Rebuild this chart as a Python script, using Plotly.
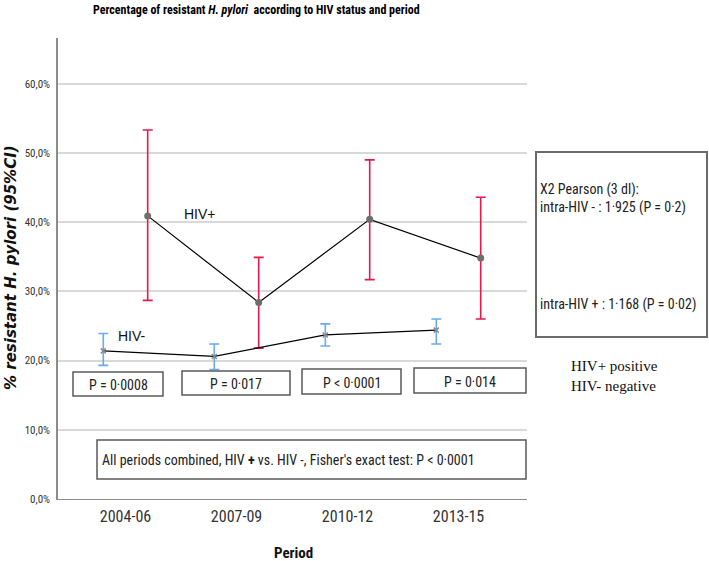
import plotly.graph_objects as go

# ---------------- data ----------------
periods = ["2004-06", "2007-09", "2010-12", "2013-15"]
hiv_pos = [40.9, 28.4, 40.4, 34.8]
hiv_pos_upper = [53.3, 34.9, 49.0, 43.6]
hiv_pos_lower = [28.7, 21.8, 31.7, 26.0]
hiv_neg = [21.4, 20.6, 23.7, 24.4]
hiv_neg_upper = [23.9, 22.4, 25.3, 26.0]
hiv_neg_lower = [19.3, 18.7, 22.1, 22.4]
p_values = ["P = 0·0008", "P = 0·017", "P < 0·0001", "P = 0·014"]
y_ticks = [0, 10, 20, 30, 40, 50, 60]
y_tick_labels = ["0,0%", "10,0%", "20,0%", "30,0%", "40,0%", "50,0%", "60,0%"]

# ---------------- geometry ----------------
W, H = 709, 561
L, R, T, B = 58, 527, 38, 499
NARROW = "Roboto Condensed, Liberation Sans, sans-serif"
SANS = "Liberation Sans, Arial, sans-serif"
SERIF = "Liberation Serif, Times New Roman, serif"


def px(x):
    return (x - L) / (R - L)


def py(y):
    return (B - y) / (B - T)


xc = list(range(len(periods)))
x_pos = [i + 0.2 for i in xc]
x_neg = [i - 0.2 for i in xc]

fig = go.Figure()

fig.add_trace(go.Scatter(
    x=x_pos, y=hiv_pos, mode="lines+markers",
    line=dict(color="black", width=1.2),
    marker=dict(color="#6e6e6e", size=7, symbol="circle"),
    error_y=dict(type="data", symmetric=False,
                 array=[u - v for u, v in zip(hiv_pos_upper, hiv_pos)],
                 arrayminus=[v - l for v, l in zip(hiv_pos, hiv_pos_lower)],
                 color="#e8194b", thickness=1.6, width=5),
    showlegend=False, hoverinfo="skip"))

fig.add_trace(go.Scatter(
    x=x_neg, y=hiv_neg, mode="lines+markers",
    line=dict(color="black", width=1.2),
    marker=dict(color="#8a8a8a", size=5, symbol="x-thin", line=dict(color="#8a8a8a", width=1.5)),
    error_y=dict(type="data", symmetric=False,
                 array=[u - v for u, v in zip(hiv_neg_upper, hiv_neg)],
                 arrayminus=[v - l for v, l in zip(hiv_neg, hiv_neg_lower)],
                 color="#6aaaf0", thickness=1.6, width=5),
    showlegend=False, hoverinfo="skip"))

shapes = []
annotations = []

# P-value boxes
p_boxes = [(73, 163, 372, 396), (182, 290, 371, 395), (302, 401, 369, 394), (414, 526, 368, 393)]
for txt, (x0, x1, y0, y1) in zip(p_values, p_boxes):
    shapes.append(dict(type="rect", xref="paper", yref="paper",
                       x0=px(x0), x1=px(x1), y0=py(y1), y1=py(y0),
                       line=dict(color="#5a5a5a", width=1.5)))
    annotations.append(dict(text=txt, xref="paper", yref="paper",
                            x=px((x0 + x1) / 2), y=py((y0 + y1) / 2 + 1),
                            xanchor="center", yanchor="middle", showarrow=False,
                            font=dict(family=NARROW, size=14, color="#222")))

# combined box
shapes.append(dict(type="rect", xref="paper", yref="paper",
                   x0=px(97), x1=px(526), y0=py(479), y1=py(440),
                   line=dict(color="#5a5a5a", width=1.5)))
annotations.append(dict(text="All periods combined, HIV <b>+</b> vs. HIV -, Fisher's exact test: P < 0·0001",
                        xref="paper", yref="paper", x=px(100), y=py(460),
                        xanchor="left", yanchor="middle", showarrow=False,
                        font=dict(family=NARROW, size=14, color="#222")))

# chi-square box
shapes.append(dict(type="rect", xref="paper", yref="paper",
                   x0=px(536), x1=px(707), y0=py(337), y1=py(152),
                   line=dict(color="#6a6a6a", width=2)))
annotations.append(dict(text="X2 Pearson (3 dl):<br>intra-HIV - : 1·925 (P = 0·2)",
                        xref="paper", yref="paper", x=px(538), y=py(198),
                        xanchor="left", yanchor="middle", align="left", showarrow=False,
                        font=dict(family=NARROW, size=14, color="#222")))
annotations.append(dict(text="intra-HIV + : 1·168 (P = 0·02)",
                        xref="paper", yref="paper", x=px(538), y=py(305),
                        xanchor="left", yanchor="middle", align="left", showarrow=False,
                        font=dict(family=NARROW, size=14, color="#222")))

# series labels
annotations.append(dict(text="HIV+", xref="paper", yref="paper", x=px(182), y=py(214),
                        xanchor="left", yanchor="middle", showarrow=False,
                        font=dict(family=SANS, size=14, color="#111")))
annotations.append(dict(text="HIV-", xref="paper", yref="paper", x=px(116), y=py(336),
                        xanchor="left", yanchor="middle", showarrow=False,
                        font=dict(family=SANS, size=14, color="#111")))

# legend text
annotations.append(dict(text="HIV+ positive<br>HIV- negative", xref="paper", yref="paper",
                        x=px(569), y=py(376), xanchor="left", yanchor="middle",
                        align="left", showarrow=False,
                        font=dict(family=SERIF, size=15, color="#111")))

# title
annotations.append(dict(text="<b>Percentage of resistant <i>H. pylori</i>&nbsp; according to HIV status and period</b>",
                        xref="paper", yref="paper", x=px(256), y=py(10),
                        xanchor="center", yanchor="middle", showarrow=False,
                        font=dict(family=NARROW, size=12, color="#000")))

# axis titles
annotations.append(dict(text="<b><i>% resistant H. pylori (95%CI)</i></b>", xref="paper", yref="paper",
                        x=px(11), y=py(268), xanchor="center", yanchor="middle",
                        textangle=-90, showarrow=False,
                        font=dict(family="DejaVu Sans, Verdana, sans-serif", size=15, color="#111")))
annotations.append(dict(text="<b>Period</b>", xref="paper", yref="paper",
                        x=px(293), y=py(553), xanchor="center", yanchor="middle",
                        showarrow=False,
                        font=dict(family=NARROW, size=15, color="#111")))

fig.update_layout(
    width=W, height=H,
    margin=dict(l=L, r=W - R, t=T, b=H - B, pad=0),
    paper_bgcolor="white", plot_bgcolor="white",
    shapes=shapes, annotations=annotations,
    xaxis=dict(range=[-0.608, 3.617], tickvals=xc, ticktext=periods,
               showgrid=False, zeroline=False, showline=True, linecolor="#8c8c8c", linewidth=1.2,
               ticks="", ticklabelstandoff=3,
               tickfont=dict(family=NARROW, size=16, color="#333")),
    yaxis=dict(range=[0, 66.6], tickvals=y_ticks, ticktext=y_tick_labels,
               showgrid=True, gridcolor="#d9d9d9", gridwidth=2, zeroline=False,
               showline=True, linecolor="#8c8c8c", linewidth=1.5,
               ticks="", ticklabelstandoff=4,
               tickfont=dict(family=NARROW, size=11, color="#333")),
)

fig.write_html("out.html", config={"displayModeBar": False},
               post_script="document.body.style.margin='0px';")
